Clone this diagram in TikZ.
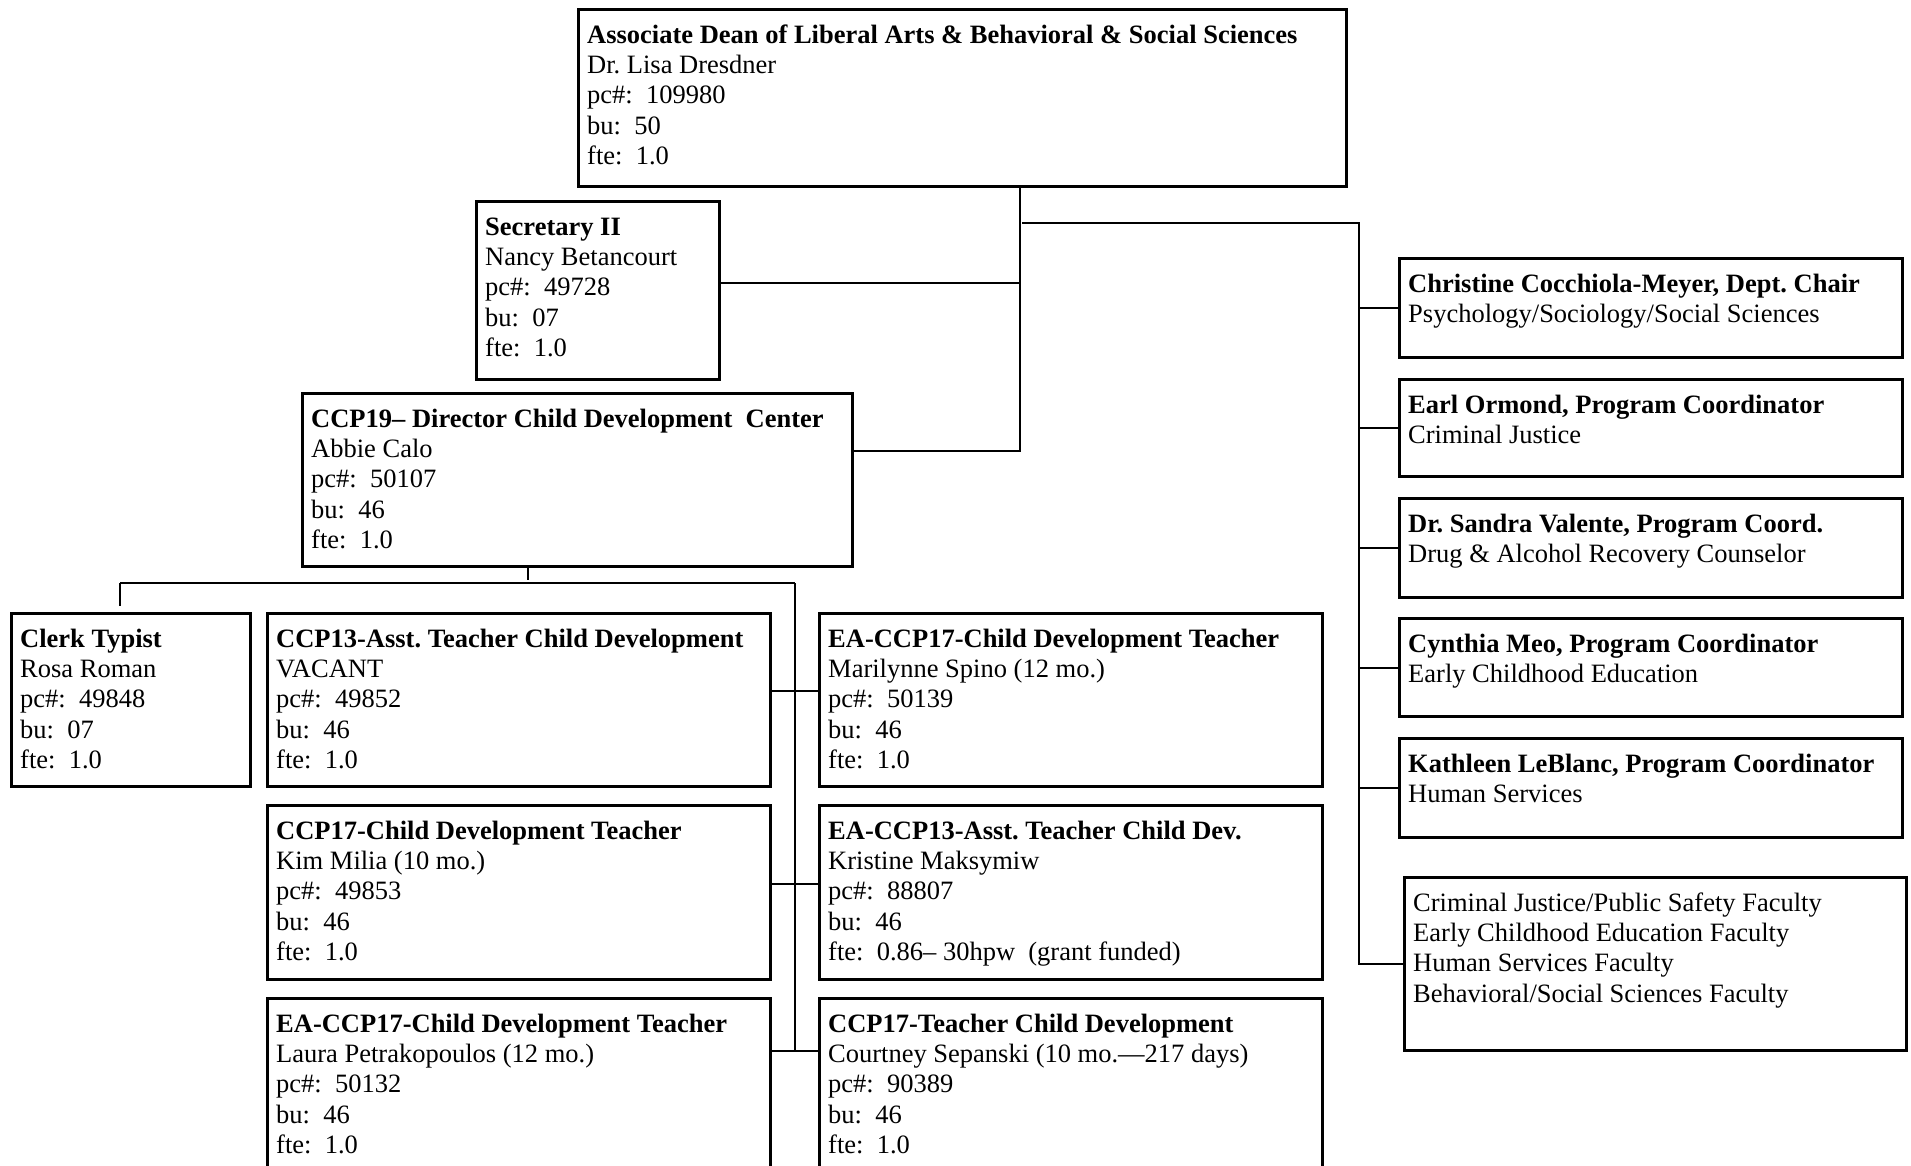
\documentclass[tikz,border=0pt]{standalone}
\usepackage{fontspec}
\setmainfont{Liberation Serif}
\usetikzlibrary{calc}
\tikzset{
  box/.style={draw, line width=3pt, inner sep=0pt, anchor=north west},
  conn/.style={line width=2pt},
  thinconn/.style={line width=1.5pt},
  txt/.style={anchor=base west, inner sep=0pt, font=\fontsize{26.5}{30.4}\selectfont},
}
\frenchspacing
\newcommand{\boxlines}[1]{\parbox[t]{900pt}{\raggedright\frenchspacing #1}}
\newcommand{\orgbox}[6]{%
  \node[box, minimum width=#4pt, minimum height=#5pt] (#1) at (#2,#3) {};
  \node[txt] (#1-t) at ($(#1.north west)+(10,35)$) {\boxlines{#6}};
}
\begin{document}
\begin{tikzpicture}[x=1pt, y=-1pt]
\clip (0,0) rectangle (1911,1165);
\fill[white] (0,0) rectangle (1911,1165);

% boxes
\orgbox{dean}{577}{8}{768}{177}{\textbf{Associate Dean of Liberal Arts \& Behavioral \& Social Sciences}\\Dr. Lisa Dresdner\\pc\#:\ \ 109980\\bu:\ \ 50\\fte:\ \ 1.0}
\orgbox{sec}{475}{200}{243}{178}{\textbf{Secretary II}\\Nancy Betancourt\\pc\#:\ \ 49728\\bu:\ \ 07\\fte:\ \ 1.0}
\orgbox{dir}{301}{392}{550}{173}{\textbf{CCP19-- Director Child Development\ \ Center}\\Abbie Calo\\pc\#:\ \ 50107\\bu:\ \ 46\\fte:\ \ 1.0}
\orgbox{clerk}{10}{612}{239}{173}{\textbf{Clerk Typist}\\Rosa Roman\\pc\#:\ \ 49848\\bu:\ \ 07\\fte:\ \ 1.0}
\orgbox{cthirteen}{266}{612}{503}{173}{\textbf{CCP13-Asst. Teacher Child Development}\\VACANT\\pc\#:\ \ 49852\\bu:\ \ 46\\fte:\ \ 1.0}
\orgbox{easpino}{818}{612}{503}{173}{\textbf{EA-CCP17-Child Development Teacher}\\Marilynne Spino (12 mo.)\\pc\#:\ \ 50139\\bu:\ \ 46\\fte:\ \ 1.0}
\orgbox{kim}{266}{804}{503}{174}{\textbf{CCP17-Child Development Teacher}\\Kim Milia (10 mo.)\\pc\#:\ \ 49853\\bu:\ \ 46\\fte:\ \ 1.0}
\orgbox{eamaks}{818}{804}{503}{174}{\textbf{EA-CCP13-Asst. Teacher Child Dev.}\\Kristine Maksymiw\\pc\#:\ \ 88807\\bu:\ \ 46\\fte:\ \ 0.86-- 30hpw\ \ (grant funded)}
\orgbox{laura}{266}{997}{503}{200}{\textbf{EA-CCP17-Child Development Teacher}\\Laura Petrakopoulos (12 mo.)\\pc\#:\ \ 50132\\bu:\ \ 46\\fte:\ \ 1.0}
\orgbox{court}{818}{997}{503}{200}{\textbf{CCP17-Teacher Child Development}\\Courtney Sepanski (10 mo.---217 days)\\pc\#:\ \ 90389\\bu:\ \ 46\\fte:\ \ 1.0}

\orgbox{chr}{1398}{257}{503}{99}{\textbf{Christine Cocchiola-Meyer, Dept. Chair}\\Psychology/Sociology/Social Sciences}
\orgbox{earl}{1398}{378}{503}{97}{\textbf{Earl Ormond, Program Coordinator}\\Criminal Justice}
\orgbox{sandra}{1398}{497}{503}{99}{\textbf{Dr. Sandra Valente, Program Coord.}\\Drug \& Alcohol Recovery Counselor}
\orgbox{cyn}{1398}{617}{503}{98}{\textbf{Cynthia Meo, Program Coordinator}\\Early Childhood Education}
\orgbox{kath}{1398}{737}{503}{99}{\textbf{Kathleen LeBlanc, Program Coordinator}\\Human Services}
\orgbox{fac}{1403}{876}{502}{173}{Criminal Justice/Public Safety Faculty\\Early Childhood Education Faculty\\Human Services Faculty\\Behavioral/Social Sciences Faculty}

% connectors from the dean
\coordinate (tr) at (1020,451);
\draw[conn] (dean.south -| tr) -- (tr) -- (tr -| dir.east);
\coordinate (secj) at (1020,283);
\draw[conn] (secj -| sec.east) -- (secj);
\coordinate (rj) at (1022,223);
\coordinate (rt) at (1359,223);
\draw[conn] (rj) -- (rt) -- (rt |- fac.west) -- (fac.west);
\foreach \n in {chr,earl,sandra,cyn,kath}
  \draw[conn] (rt |- \n.west) -- (\n.west);

% connectors from the director
\coordinate (dstub) at (528,580);
\draw[thinconn] (dstub |- dir.south) -- (dstub);
\coordinate (hl) at (120,583);
\coordinate (hr) at (795,583);
\coordinate (tb) at (795,1051);
\draw[conn] (hl) -- (hr);
\draw[thinconn] (hl) -- (120,606);
\draw[thinconn] (hr) -- (tb);
\coordinate (sa) at (795,691);
\coordinate (sb) at (795,884);
\draw[conn] (sa -| cthirteen.east) -- (sa -| easpino.west);
\draw[conn] (sb -| kim.east) -- (sb -| eamaks.west);
\draw[conn] (tb -| laura.east) -- (tb -| court.west);
\end{tikzpicture}
\end{document}
